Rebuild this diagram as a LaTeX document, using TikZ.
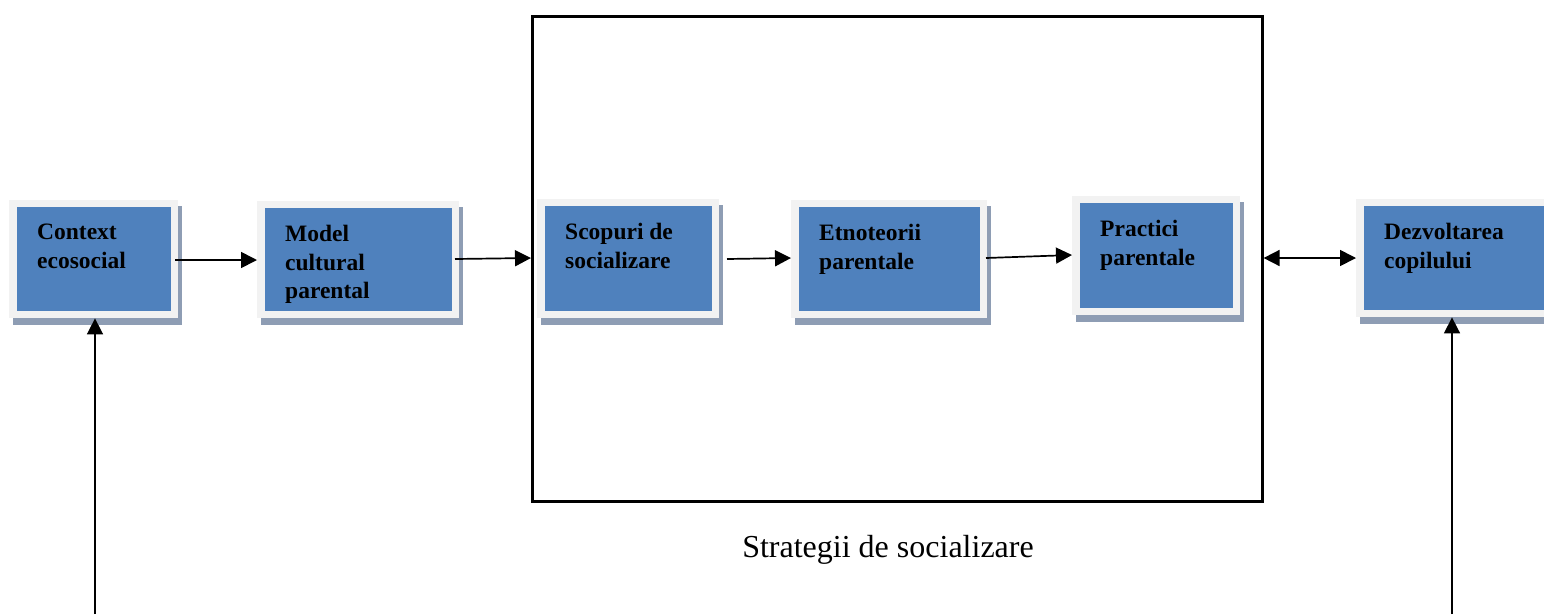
\documentclass[tikz,border=0pt]{standalone}
\usepackage{fontspec}
\setmainfont{Liberation Serif}
\usetikzlibrary{arrows.meta}
\definecolor{boxblue}{HTML}{4F81BD}
\definecolor{framec}{HTML}{F2F2F2}
\definecolor{shadowc}{HTML}{8E9DB4}
\tikzset{
  tip/.tip={Triangle[length=16pt,width=16pt]},
  conn/.style={line width=1.7pt,-tip},
  boxtext/.style={anchor=north west,inner sep=0pt,align=left,font=\fontsize{23.5}{28.5}\selectfont\bfseries},
}
% #1 name, #2 x1, #3 y1, #4 x2, #5 y2, #6 text
\newcommand\pbox[6]{%
  \fill[shadowc] (#2+4,#3+6) rectangle (#4+4,#5+7);
  \node[fill=framec,inner sep=0pt,anchor=north west,minimum width={(#4-#2)*1pt},minimum height={(#5-#3)*1pt}] (#1) at (#2,#3) {};
  \node[fill=boxblue,inner sep=0pt,anchor=north west,minimum width={(#4-#2-15)*1pt},minimum height={(#5-#3-14)*1pt}] (#1in) at (#2+8,#3+7) {};
  \node[boxtext] (#1txt) at (#2+28,#3+24) {#6};
}
\begin{document}
\begin{tikzpicture}[x=1pt,y=-1pt]
\useasboundingbox (0,0) rectangle (1544,614);
\node[draw,line width=2.6pt,inner sep=0pt,anchor=north west,minimum width=730pt,minimum height=485pt] (strat) at (531,15) {};
\node[anchor=base,inner sep=0pt,font=\fontsize{32}{36}\selectfont] (caption) at (888,557) {Strategii de socializare};
\pbox{ctx}{9}{200}{178}{318}{Context\\ecosocial}
\pbox{model}{257}{201}{459}{318}{Model\\cultural\\parental}
\pbox{scop}{537}{199}{719}{318}{Scopuri de\\socializare}
\pbox{etno}{791}{200}{987}{318}{Etnoteorii\\parentale}
\pbox{prac}{1072}{196}{1240}{315}{Practici\\parentale}
\pbox{dezv}{1356}{199}{1560}{317}{Dezvoltarea\\copilului}
\coordinate (ctxbot) at (95,614);
\coordinate (dezvbot) at (1452,614);
\draw[conn] (175,260) -- (model.west |- 0,260);
\draw[conn] (455,259) -- (strat.west |- 0,258);
\draw[conn] (727,259) -- (etno.west |- 0,258);
\draw[conn] (986,258) -- (prac.west |- 0,255);
\draw[line width=1.7pt,tip-tip] (strat.east |- 0,258) -- (dezv.west |- 0,258);
\draw[conn] (ctxbot) -- (ctx.south -| ctxbot);
\draw[conn] (dezvbot) -- (dezv.south -| dezvbot);
\end{tikzpicture}
\end{document}
